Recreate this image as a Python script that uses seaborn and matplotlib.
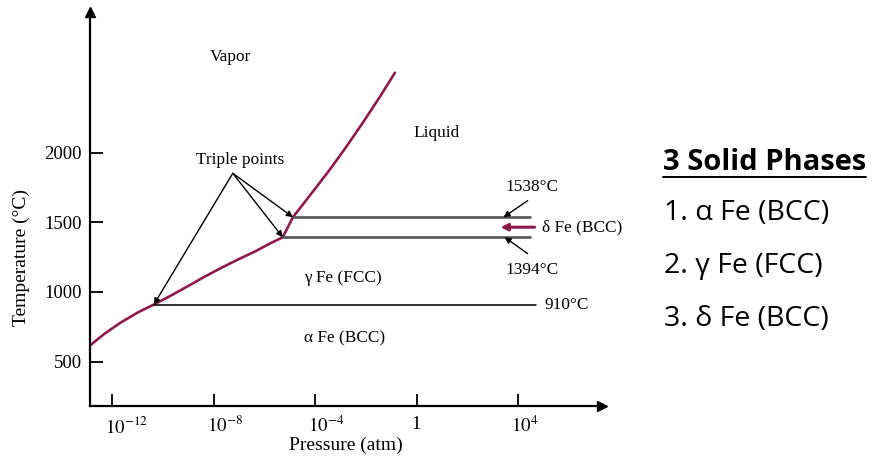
"""
Iron pressure-temperature phase diagram with the three solid phases listed on the side
"""

import matplotlib
matplotlib.use('Agg')
import matplotlib.pyplot as plt
import matplotlib.transforms as mtransforms
from matplotlib.lines import Line2D
import seaborn as sns
import numpy as np

# --- data (pressure given as log10 of atm) ---
subl_logp = [-12.87, -12.28, -11.65, -10.98, -10.35, -9.67, -9.0, -8.33,
             -7.70, -7.03, -6.36, -5.73, -5.27]
subl_temp = [615, 702, 781, 853, 910, 975, 1043, 1112,
             1173, 1234, 1292, 1353, 1394]

delta_logp = [-5.27, -4.87]
delta_temp = [1394, 1538]

liq_logp = [-4.87, -4.08, -3.41, -2.78, -2.11, -1.44, -0.85]
liq_temp = [1538, 1723, 1882, 2041, 2219, 2405, 2577]

line_1538 = ([-4.87, 4.46], [1538, 1538])
line_1394 = ([-5.27, 4.46], [1394, 1394])
line_910 = ([-10.35, 4.69], [910, 910])

triple_logp = [-10.35, -5.27, -4.87]
triple_temp = [910, 1394, 1538]

xtick_exp = [-12, -8, -4, 0, 4]
xtick_labels = [r'$10^{-12}$', r'$10^{-8}$', r'$10^{-4}$', '1', r'$10^{4}$']
ytick_vals = [500, 1000, 1500, 2000]

side_title = '3 Solid Phases'
side_items = ['1. α Fe (BCC)', '2. γ Fe (FCC)', '3. δ Fe (BCC)']

PURPLE = '#8c1a4c'
SERIF = ['Liberation Serif', 'DejaVu Serif']

sns.set_style('white')
plt.rcParams['font.family'] = SERIF
plt.rcParams['mathtext.fontset'] = 'stix'
plt.rcParams['text.color'] = 'black'
plt.rcParams['axes.labelcolor'] = 'black'

fig = plt.figure(figsize=(8.72, 4.62), dpi=100)
ax = fig.add_axes([90 / 872, 56 / 462, 512 / 872, 394 / 462])

P = lambda e: np.power(10.0, np.asarray(e, dtype=float))

# phase boundaries
for xs, ys in ((subl_logp, subl_temp), (delta_logp, delta_temp),
               (liq_logp, liq_temp)):
    sns.lineplot(x=P(xs), y=ys, ax=ax, color=PURPLE, lw=1.9,
                 sort=False, estimator=None)

for xs, ys in (line_1538, line_1394):
    sns.lineplot(x=P(xs), y=ys, ax=ax, color='#555555', lw=1.9,
                 sort=False, estimator=None)
sns.lineplot(x=P(line_910[0]), y=line_910[1], ax=ax, color='black', lw=1.1,
             sort=False, estimator=None)

ax.set_xscale('log')
ax.set_xlim(P(-12.867), P(7.31))
ax.set_ylim(180, 3014)

ax.set_xticks(P(xtick_exp))
ax.set_xticklabels(xtick_labels)
ax.xaxis.set_minor_locator(matplotlib.ticker.NullLocator())
ax.set_yticks(ytick_vals)
ax.tick_params(axis='both', direction='in', length=9, width=1.3,
               labelsize=13.5, colors='black', bottom=True, left=True)
ax.tick_params(axis='x', pad=7)
ax.tick_params(axis='y', pad=6)

# "10" of each power sits centred on its tick
shift = mtransforms.ScaledTranslation(-7 / 100, 0, fig.dpi_scale_trans)
for lbl, txt in zip(ax.get_xticklabels(), xtick_labels):
    if txt != '1':
        lbl.set_horizontalalignment('left')
        lbl.set_transform(lbl.get_transform() + shift)

for side in ('top', 'right'):
    ax.spines[side].set_visible(False)
for side in ('left', 'bottom'):
    ax.spines[side].set_linewidth(1.6)
    ax.spines[side].set_color('black')
ax.plot(1, 0, '>', color='black', ms=7, transform=ax.transAxes, clip_on=False)
ax.plot(0, 1, '^', color='black', ms=7, transform=ax.transAxes, clip_on=False)

ax.set_xlabel('Pressure (atm)', fontsize=14, labelpad=0)
ax.set_ylabel('Temperature (°C)', fontsize=14)
ax.yaxis.set_label_coords(-60 / 512, (406 - 258) / 394)

# region labels
fs = 12.4
ax.text(P(-7.35), 2687, 'Vapor', ha='center', va='center', fontsize=fs)
ax.text(P(0.8), 2141, 'Liquid', ha='center', va='center', fontsize=fs)
ax.text(P(-2.9), 1100, 'γ Fe (FCC)', ha='center', va='center', fontsize=fs)
ax.text(P(-2.83), 665, 'α Fe (BCC)', ha='center', va='center', fontsize=fs)
ax.text(P(-6.96), 1948, 'Triple points', ha='center', va='center', fontsize=fs)

arrow = dict(arrowstyle='-|>', color='black', lw=1.0, mutation_scale=9,
             shrinkA=0, shrinkB=0)
for lp, t in zip(triple_logp, triple_temp):
    ax.annotate('', xy=(P(lp), t), xytext=(P(-7.24), 1854), arrowprops=arrow)

ax.annotate('', xy=(P(3.43), 1538), xytext=(P(4.38), 1657), arrowprops=arrow)
ax.text(P(4.54), 1757, '1538°C', ha='center', va='center', fontsize=fs)
ax.annotate('', xy=(P(3.47), 1394), xytext=(P(4.38), 1276), arrowprops=arrow)
ax.text(P(4.54), 1155, '1394°C', ha='center', va='center', fontsize=fs)

ax.annotate('', xy=(P(3.31), 1466), xytext=(P(4.65), 1466),
            arrowprops=dict(arrowstyle='-|>', color=PURPLE, lw=2.2,
                            mutation_scale=10, shrinkA=0, shrinkB=0))
ax.text(P(4.93), 1466, 'δ Fe (BCC)', ha='left', va='center', fontsize=fs)
ax.text(P(5.05), 905, '910°C', ha='left', va='center', fontsize=fs)

# side panel
side_font = ['Open Sans', 'DejaVu Sans']
title = fig.text(663 / 872, 1 - 162 / 462, side_title, ha='left', va='center',
                 fontsize=21, fontweight='bold', family=side_font, color='black')
for i, item in enumerate(side_items):
    fig.text(664 / 872, 1 - (213 + 53 * i) / 462, item, ha='left', va='center',
             fontsize=20.5, family=side_font, color='black')

fig.canvas.draw()
bb = title.get_window_extent().transformed(fig.transFigure.inverted())
fig.lines.append(Line2D([bb.x0, bb.x1], [bb.y0 + 0.0, bb.y0 + 0.0],
                        transform=fig.transFigure, color='black', lw=1.4))

fig.savefig('out.png', dpi=100)
plt.close(fig)
